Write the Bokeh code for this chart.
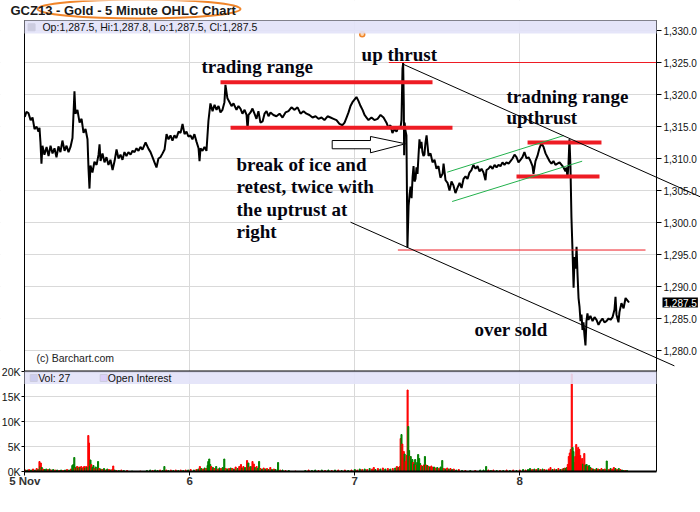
from bokeh.plotting import figure
from bokeh.models import (Range1d, FixedTicker, NumeralTickFormatter, Label, LinearAxis,
                          BoxAnnotation, ColumnDataSource, Grid)
from bokeh.embed import file_html
from bokeh.resources import INLINE

# ---------------- data ----------------
TITLE = "GCZ13 - Gold - 5 Minute OHLC Chart"
OHLC_TEXT = "Op:1,287.5, Hi:1,287.8, Lo:1,287.5, Cl:1,287.5"
LAST_PRICE = 1287.5
LAST_LABEL = "1,287.5"
VOL_TEXT = "Vol: 27"
OI_TEXT = "Open Interest"
COPYRIGHT = "(c) Barchart.com"

day_ticks = [5, 6, 7, 8]
day_labels = ["5 Nov", "6", "7", "8"]
price_ticks = [1280, 1285, 1290, 1295, 1300, 1305, 1310, 1315, 1320, 1325, 1330]
vol_ticks = [0, 5000, 10000, 15000, 20000]
vol_tick_labels = ["0K", "5K", "10K", "15K", "20K"]

price_day = [
    5.000, 5.010, 5.022, 5.035, 5.047, 5.059, 5.071, 5.083, 5.089, 5.095, 5.101, 5.107,
    5.119, 5.132, 5.144, 5.156, 5.168, 5.180, 5.192, 5.204, 5.216, 5.228, 5.241, 5.253,
    5.265, 5.277, 5.289, 5.301, 5.307, 5.319, 5.332, 5.344, 5.356, 5.368, 5.380, 5.386,
    5.392, 5.398, 5.410, 5.422, 5.435, 5.447, 5.453, 5.459, 5.471, 5.483, 5.495, 5.507,
    5.519, 5.532, 5.544, 5.556, 5.568, 5.580, 5.592, 5.604, 5.616, 5.628, 5.641, 5.653,
    5.665, 5.677, 5.689, 5.701, 5.713, 5.732, 5.750, 5.762, 5.774, 5.786, 5.798, 5.810,
    5.822, 5.835, 5.847, 5.859, 5.871, 5.883, 5.895, 5.907, 5.919, 5.932, 5.944, 5.956,
    5.968, 5.980, 5.992, 6.004, 6.016, 6.028, 6.041, 6.053, 6.059, 6.065, 6.077, 6.089,
    6.101, 6.113, 6.125, 6.138, 6.150, 6.162, 6.174, 6.186, 6.198, 6.210, 6.216, 6.228,
    6.241, 6.253, 6.265, 6.283, 6.295, 6.307, 6.319, 6.332, 6.344, 6.350, 6.356, 6.368,
    6.380, 6.392, 6.404, 6.416, 6.428, 6.441, 6.453, 6.465, 6.477, 6.489, 6.507, 6.525,
    6.544, 6.562, 6.580, 6.598, 6.616, 6.635, 6.653, 6.671, 6.689, 6.707, 6.725, 6.744,
    6.762, 6.780, 6.798, 6.816, 6.835, 6.853, 6.871, 6.889, 6.907, 6.925, 6.938, 6.950,
    6.962, 6.974, 6.986, 6.998, 7.010, 7.022, 7.035, 7.047, 7.059, 7.071, 7.083, 7.101,
    7.119, 7.138, 7.156, 7.174, 7.192, 7.204, 7.216, 7.228, 7.241, 7.253, 7.265, 7.277,
    7.283, 7.289, 7.293, 7.297, 7.299, 7.302, 7.307, 7.313, 7.319, 7.326, 7.332, 7.338,
    7.344, 7.350, 7.356, 7.362, 7.368, 7.374, 7.380, 7.386, 7.392, 7.398, 7.404, 7.410,
    7.416, 7.422, 7.428, 7.435, 7.441, 7.447, 7.459, 7.471, 7.483, 7.495, 7.507, 7.519,
    7.532, 7.538, 7.550, 7.562, 7.574, 7.586, 7.598, 7.610, 7.622, 7.635, 7.647, 7.659,
    7.671, 7.683, 7.695, 7.707, 7.719, 7.732, 7.744, 7.756, 7.768, 7.780, 7.792, 7.798,
    7.810, 7.822, 7.835, 7.847, 7.859, 7.871, 7.883, 7.895, 7.907, 7.919, 7.932, 7.944,
    7.956, 7.968, 7.980, 7.992, 8.004, 8.016, 8.028, 8.041, 8.053, 8.065, 8.077, 8.083,
    8.095, 8.107, 8.119, 8.132, 8.144, 8.156, 8.168, 8.180, 8.192, 8.204, 8.216, 8.228,
    8.241, 8.253, 8.265, 8.277, 8.283, 8.289, 8.295, 8.301, 8.307, 8.313, 8.319, 8.326,
    8.332, 8.338, 8.344, 8.350, 8.356, 8.362, 8.368, 8.374, 8.380, 8.386, 8.392, 8.398,
    8.404, 8.410, 8.416, 8.428, 8.441, 8.453, 8.465, 8.477, 8.489, 8.501, 8.513, 8.525,
    8.538, 8.550, 8.562, 8.574, 8.580, 8.586, 8.598, 8.604, 8.616, 8.629, 8.641, 8.653,
    8.662,
]
price_val = [
    1316.5, 1317.3, 1317.1, 1316.0, 1316.4, 1314.6, 1315.0, 1314.2, 1314.8, 1312.5, 1309.2, 1312.0,
    1310.6, 1311.8, 1310.4, 1312.0, 1310.8, 1311.6, 1310.2, 1311.9, 1311.0, 1312.8, 1311.2, 1312.0,
    1311.0, 1311.8, 1313.2, 1320.5, 1317.0, 1317.6, 1315.6, 1316.2, 1314.0, 1314.6, 1313.0, 1308.5,
    1305.3, 1308.9, 1307.8, 1309.5, 1309.0, 1310.6, 1312.2, 1309.6, 1310.8, 1309.4, 1310.2, 1309.0,
    1309.8, 1308.2, 1309.6, 1311.4, 1310.0, 1310.6, 1309.8, 1311.0, 1310.4, 1311.0, 1310.6, 1311.2,
    1311.0, 1311.6, 1311.2, 1311.8, 1311.4, 1312.5, 1311.5, 1311.0, 1310.2, 1309.4, 1308.6, 1310.0,
    1310.2, 1310.8, 1311.4, 1313.8, 1313.0, 1313.6, 1312.8, 1313.6, 1313.2, 1314.2, 1314.0, 1315.4,
    1313.8, 1314.2, 1313.4, 1313.6, 1313.0, 1313.8, 1312.6, 1311.6, 1309.6, 1311.6, 1311.2, 1311.8,
    1311.2, 1315.9, 1318.6, 1317.4, 1318.4, 1317.6, 1318.2, 1317.2, 1317.6, 1318.8, 1321.5, 1319.4,
    1318.8, 1318.2, 1318.6, 1317.6, 1318.2, 1317.8, 1317.0, 1317.6, 1316.8, 1314.6, 1316.8, 1317.2,
    1317.8, 1317.0, 1316.2, 1317.4, 1315.6, 1315.8, 1317.0, 1317.4, 1316.6, 1317.2, 1316.8, 1316.6,
    1317.0, 1316.4, 1317.2, 1317.4, 1318.0, 1317.6, 1318.0, 1317.0, 1317.4, 1317.0, 1316.8, 1316.4,
    1316.6, 1316.2, 1316.4, 1316.0, 1316.6, 1316.4, 1316.2, 1316.0, 1315.4, 1315.2, 1315.6, 1316.4,
    1317.2, 1318.2, 1318.8, 1319.2, 1319.6, 1319.0, 1318.2, 1317.6, 1316.8, 1316.4, 1316.0, 1316.4,
    1316.0, 1316.2, 1316.8, 1316.4, 1315.6, 1314.8, 1315.2, 1314.0, 1314.6, 1314.2, 1315.0, 1314.8,
    1316.0, 1324.0, 1324.9, 1318.5, 1310.5, 1315.6, 1314.4, 1313.6, 1296.1, 1302.6, 1304.4, 1305.6,
    1303.8, 1307.0, 1308.8, 1306.4, 1306.8, 1308.6, 1307.6, 1310.4, 1313.0, 1311.6, 1312.6, 1311.0,
    1310.4, 1310.6, 1312.4, 1313.6, 1312.0, 1310.4, 1310.8, 1309.4, 1309.8, 1308.4, 1308.8, 1307.0,
    1307.6, 1309.2, 1306.6, 1306.2, 1305.0, 1306.4, 1305.8, 1304.6, 1305.4, 1306.2, 1305.4, 1306.8,
    1307.2, 1306.8, 1307.8, 1308.2, 1309.0, 1308.4, 1308.8, 1308.0, 1308.4, 1307.8, 1306.6, 1308.2,
    1308.4, 1308.8, 1308.4, 1309.0, 1308.6, 1309.0, 1308.8, 1309.4, 1309.0, 1309.4, 1309.2, 1309.6,
    1310.0, 1310.6, 1310.2, 1309.4, 1309.8, 1310.2, 1311.0, 1310.0, 1310.2, 1309.6, 1308.8, 1307.6,
    1309.6, 1310.4, 1311.6, 1312.4, 1311.8, 1310.8, 1310.2, 1309.6, 1309.2, 1309.6, 1309.0, 1309.2,
    1309.4, 1309.0, 1308.6, 1308.0, 1308.6, 1307.0, 1309.0, 1313.0, 1308.8, 1300.8, 1296.0, 1289.8,
    1294.6, 1292.8, 1296.2, 1291.8, 1288.2, 1286.8, 1284.6, 1285.6, 1283.2, 1284.4, 1282.4, 1280.8,
    1284.6, 1285.8, 1284.8, 1285.4, 1284.6, 1285.2, 1284.8, 1284.0, 1284.6, 1285.0, 1284.4, 1284.6,
    1285.0, 1284.8, 1285.2, 1286.4, 1288.4, 1285.6, 1284.4, 1286.0, 1287.4, 1286.6, 1288.2, 1287.8,
    1287.5,
]

# volume bars: day, thousands of contracts, u = up (green) / d = down (red)
vol_day = [
    5.004, 5.015, 5.026, 5.038, 5.050, 5.062, 5.072, 5.082, 5.089, 5.094, 5.097, 5.103,
    5.110, 5.120, 5.130, 5.140, 5.150, 5.160, 5.172, 5.184, 5.196, 5.208, 5.220, 5.232,
    5.244, 5.256, 5.268, 5.280, 5.288, 5.294, 5.300, 5.306, 5.312, 5.318, 5.324, 5.330,
    5.336, 5.342, 5.348, 5.354, 5.360, 5.366, 5.372, 5.378, 5.385, 5.389, 5.394, 5.398,
    5.403, 5.410, 5.416, 5.422, 5.430, 5.437, 5.444, 5.452, 5.460, 5.470, 5.480, 5.490,
    5.500, 5.510, 5.520, 5.530, 5.536, 5.545, 5.556, 5.570, 5.585, 5.600, 5.620, 5.650,
    5.700, 5.740, 5.760, 5.775, 5.790, 5.805, 5.820, 5.835, 5.846, 5.858, 5.870, 5.885,
    5.900, 5.915, 5.930, 5.945, 5.960, 5.975, 5.990, 6.005, 6.025, 6.040, 6.052, 6.061,
    6.070, 6.080, 6.090, 6.100, 6.108, 6.112, 6.118, 6.124, 6.130, 6.140, 6.150, 6.160,
    6.170, 6.180, 6.190, 6.200, 6.209, 6.218, 6.228, 6.238, 6.248, 6.258, 6.268, 6.278,
    6.290, 6.300, 6.310, 6.318, 6.325, 6.335, 6.347, 6.355, 6.362, 6.370, 6.380, 6.388,
    6.396, 6.405, 6.412, 6.420, 6.428, 6.438, 6.448, 6.458, 6.468, 6.478, 6.488, 6.498,
    6.510, 6.520, 6.535, 6.548, 6.562, 6.580, 6.600, 6.640, 6.700, 6.720, 6.740, 6.760,
    6.780, 6.800, 6.820, 6.840, 6.860, 6.880, 6.900, 6.920, 6.940, 6.960, 6.980, 7.000,
    7.015, 7.030, 7.045, 7.060, 7.075, 7.090, 7.105, 7.115, 7.125, 7.140, 7.155, 7.170,
    7.185, 7.200, 7.215, 7.230, 7.245, 7.255, 7.265, 7.272, 7.278, 7.283, 7.288, 7.292,
    7.297, 7.302, 7.308, 7.314, 7.320, 7.324, 7.329, 7.334, 7.339, 7.344, 7.349, 7.354,
    7.360, 7.366, 7.372, 7.378, 7.384, 7.390, 7.396, 7.402, 7.410, 7.418, 7.425, 7.432,
    7.440, 7.448, 7.456, 7.464, 7.472, 7.480, 7.490, 7.500, 7.510, 7.520, 7.530, 7.540,
    7.550, 7.560, 7.570, 7.580, 7.590, 7.600, 7.615, 7.630, 7.650, 7.670, 7.700, 7.730,
    7.760, 7.780, 7.796, 7.810, 7.825, 7.840, 7.860, 7.880, 7.900, 7.920, 7.940, 7.960,
    7.980, 8.000, 8.020, 8.035, 8.050, 8.062, 8.075, 8.088, 8.100, 8.112, 8.125, 8.138,
    8.150, 8.162, 8.175, 8.186, 8.198, 8.210, 8.222, 8.234, 8.246, 8.258, 8.266, 8.273,
    8.279, 8.285, 8.291, 8.297, 8.303, 8.309, 8.315, 8.320, 8.325, 8.330, 8.336, 8.342,
    8.348, 8.354, 8.360, 8.366, 8.372, 8.378, 8.384, 8.391, 8.398, 8.405, 8.412, 8.420,
    8.428, 8.436, 8.445, 8.455, 8.465, 8.475, 8.485, 8.495, 8.505, 8.515, 8.527, 8.540,
    8.550, 8.560, 8.570, 8.580, 8.590, 8.600, 8.610, 8.620, 8.630, 8.640, 8.650,
]
vol_k = [
    0.3, 0.3, 0.4, 0.3, 0.5, 0.3, 0.6, 0.4, 2.0, 1.0, 1.7, 0.8,
    0.5, 0.4, 0.5, 0.4, 0.5, 0.3, 0.4, 0.3, 0.3, 0.2, 0.3, 0.2,
    0.3, 0.4, 0.3, 0.5, 1.2, 1.4, 2.8, 0.7, 0.9, 1.0, 0.7, 0.9,
    0.8, 1.0, 0.6, 0.8, 1.0, 0.7, 1.0, 0.8, 7.2, 5.7, 1.0, 2.3,
    1.4, 0.8, 1.2, 0.6, 0.9, 0.5, 2.0, 0.6, 0.5, 0.4, 0.6, 0.3,
    0.5, 0.4, 0.3, 0.4, 1.1, 0.3, 0.2, 0.2, 0.3, 0.2, 0.2, 0.1,
    0.1, 0.2, 0.3, 0.2, 0.3, 0.2, 0.3, 0.2, 1.0, 0.3, 0.2, 0.3,
    0.2, 0.3, 0.2, 0.3, 0.2, 0.3, 0.3, 0.4, 0.3, 0.4, 0.5, 1.0,
    0.6, 0.5, 0.7, 0.6, 1.2, 2.0, 2.5, 1.4, 1.0, 0.8, 0.6, 1.0,
    0.5, 0.7, 0.6, 0.8, 2.5, 0.6, 0.5, 0.6, 0.7, 0.6, 0.5, 0.9,
    0.6, 1.0, 1.4, 0.7, 1.0, 0.8, 2.2, 1.7, 0.9, 1.0, 2.0, 1.5,
    0.8, 1.0, 0.6, 2.0, 0.6, 0.5, 0.7, 0.5, 0.6, 0.4, 0.8, 0.4,
    0.5, 0.4, 1.8, 0.3, 0.3, 0.2, 0.2, 0.1, 0.2, 0.3, 0.2, 0.3,
    0.2, 0.3, 0.2, 0.3, 0.2, 0.3, 0.3, 0.2, 0.3, 0.2, 0.3, 0.4,
    0.3, 0.5, 0.4, 0.5, 0.4, 0.6, 0.5, 0.8, 0.4, 0.6, 0.5, 0.7,
    0.5, 0.6, 0.5, 0.6, 0.7, 1.0, 0.8, 1.0, 6.6, 7.4, 5.5, 2.6,
    4.0, 3.5, 2.0, 3.2, 16.3, 9.0, 4.2, 3.0, 3.0, 2.0, 2.4, 1.8,
    1.5, 2.4, 1.3, 1.8, 3.4, 2.6, 1.6, 1.2, 1.0, 1.3, 3.0, 1.3,
    1.2, 1.0, 0.9, 1.1, 0.8, 0.9, 0.7, 0.8, 0.6, 0.9, 2.2, 0.6,
    0.5, 0.7, 0.5, 0.6, 0.4, 0.5, 0.3, 0.4, 0.2, 0.2, 0.2, 0.2,
    0.3, 0.3, 1.0, 0.3, 0.2, 0.3, 0.2, 0.2, 0.2, 0.3, 0.2, 0.3,
    0.2, 0.3, 0.4, 0.3, 0.4, 0.6, 0.4, 0.5, 0.4, 0.6, 0.4, 0.5,
    0.4, 0.3, 0.5, 0.8, 0.4, 0.5, 0.4, 0.6, 0.4, 0.5, 0.6, 0.7,
    0.6, 0.8, 1.4, 3.0, 3.7, 4.4, 19.5, 4.8, 4.0, 1.8, 3.0, 5.4,
    4.2, 4.8, 4.4, 3.2, 1.5, 2.6, 1.5, 3.6, 1.3, 1.4, 1.0, 1.2,
    0.8, 0.6, 0.5, 0.4, 0.6, 0.5, 0.4, 0.6, 0.4, 0.5, 2.1, 0.4,
    0.6, 0.5, 0.8, 0.6, 0.4, 0.6, 0.4, 0.3, 0.2, 0.2, 0.2,
]
vol_dir = (
    "dudududududu" "duududududud" "ududuuududud" "ududdududduu"
    "duududududud" "ududdudududu" "duuduuduudud" "udududududud"
    "ududuuuududu" "duduudududud" "uddududududd" "uduududududu"
    "duududududuu" "dudududududu" "dudududdudud" "ududududdudd"
    "duddduuduuud" "uuduuuududud" "ududdududuud" "udududududud"
    "uuududududud" "ududuudududu" "duddudududud" "uuddddduuudd"
    "dddddduduudu" "udududududud" "uddududuudu"
)

# annotation geometry (data units: day, price)
thick_red = [  # x0, x1, price
    (6.186, 7.471, 1321.9),   # trading range top
    (6.247, 7.592, 1314.8),   # trading range bottom
    (8.047, 8.495, 1312.5),   # upthrust range top
    (7.980, 8.483, 1307.2),   # upthrust range bottom
]
thin_red = [
    (7.206, 8.828, 1325.0),   # up thrust level
    (7.261, 8.762, 1295.7),   # spike-low level
]
trend_lines = [  # x0, y0, x1, y1
    (7.287, 1324.8, 9.095, 1304.0),
    (6.974, 1300.05, 8.937, 1277.6),
]
green_channel = [
    (7.560, 1307.86, 8.267, 1313.59),
    (7.590, 1303.28, 8.378, 1309.58),
]
arrow_x = [6.863, 7.095, 7.095, 7.307, 7.095, 7.095, 6.863]
arrow_y = [1312.81, 1312.81, 1313.44, 1312.30, 1310.89, 1311.52, 1311.52]

notes = [  # text, day, price of baseline
    ("trading range", 6.071, 1324.35),
    ("up thrust", 7.041, 1326.25),
    ("tradning range", 7.919, 1319.7),
    ("upthrust", 7.919, 1316.35),
    ("break of ice and", 6.283, 1309.05),
    ("retest, twice with", 6.283, 1305.55),
    ("the uptrust at", 6.283, 1302.05),
    ("right", 6.283, 1298.55),
    ("over sold", 7.725, 1283.25),
]

# ---------------- layout constants ----------------
XL, XR = 4.85273, 9.09515          # canvas edges in days
X0, XAXIS = 4.99818, 8.82848       # plot-area left edge / price axis
Y_LO, Y_HI = 1255.0, 1334.6875     # canvas edges in price units
Y_TOP, Y_SEP, Y_BASE = 1331.5625, 1276.7188, 1261.0938
VOL_LO, VOL_HI = -7800, 94200      # canvas edges in volume units
SANS = "Liberation Sans"
SERIF = "Liberation Serif"
GRID = "#d9d9d9"
LAV = "#e2e2f8"
ORANGE = "#f0852a"

p = figure(width=700, height=510, x_range=Range1d(XL, XR), y_range=Range1d(Y_LO, Y_HI),
           x_axis_location=None, y_axis_location=None, toolbar_location=None,
           output_backend="svg", min_border=0, outline_line_color=None)
p.extra_y_ranges = {"vol": Range1d(VOL_LO, VOL_HI)}
p.grid.visible = False

p.add_layout(Grid(dimension=0, ticker=FixedTicker(ticks=day_ticks), grid_line_color=GRID))
p.add_layout(Grid(dimension=1, ticker=FixedTicker(ticks=price_ticks), grid_line_color=GRID))
p.add_layout(Grid(dimension=1, ticker=FixedTicker(ticks=vol_ticks), grid_line_color=GRID,
                  y_range_name="vol"))
# keep grid lines inside the two panels
for kw in (dict(right=X0), dict(left=XAXIS), dict(bottom=Y_TOP), dict(top=Y_BASE)):
    p.add_layout(BoxAnnotation(fill_color="white", fill_alpha=1, line_color=None,
                               level="underlay", **kw))

# axes
price_axis = LinearAxis(fixed_location=XAXIS, bounds=(Y_BASE, Y_TOP),
                        ticker=FixedTicker(ticks=price_ticks),
                        formatter=NumeralTickFormatter(format="0,0.0"),
                        major_label_text_font=SANS, major_label_text_font_size="10px",
                        major_label_text_color="#111111", major_tick_out=5, major_tick_in=0,
                        major_label_standoff=2, minor_tick_line_color=None,
                        axis_line_color="black")
p.add_layout(price_axis, "right")
p.add_layout(LinearAxis(fixed_location=X0, bounds=(Y_SEP, Y_TOP), ticker=FixedTicker(ticks=[]),
                        minor_tick_line_color=None, axis_line_color="black"), "left")
vol_axis = LinearAxis(y_range_name="vol", fixed_location=X0, bounds=(0, 20000),
                      ticker=FixedTicker(ticks=vol_ticks),
                      major_label_overrides={k: s for k, s in zip(vol_ticks, vol_tick_labels)},
                      major_label_text_font=SANS, major_label_text_font_size="10.5px",
                      major_label_text_color="#111111", major_tick_out=3, major_tick_in=0,
                      major_label_standoff=1, minor_tick_line_color=None,
                      axis_line_color="black")
p.add_layout(vol_axis, "left")
p.add_layout(LinearAxis(fixed_location=Y_TOP, bounds=(X0, XAXIS), ticker=FixedTicker(ticks=[]),
                        minor_tick_line_color=None, axis_line_color="#333333"), "above")
p.add_layout(LinearAxis(fixed_location=Y_SEP, bounds=(X0, XAXIS), ticker=FixedTicker(ticks=[]),
                        minor_tick_line_color=None, axis_line_color="black",
                        axis_line_width=2), "below")
day_axis = LinearAxis(fixed_location=Y_BASE, bounds=(X0, XAXIS),
                      ticker=FixedTicker(ticks=day_ticks),
                      major_label_overrides={d: s for d, s in zip(day_ticks, day_labels)},
                      major_label_text_font=SANS, major_label_text_font_style="bold",
                      major_label_text_font_size="11.5px", major_label_text_color="#333333",
                      major_tick_out=4, major_tick_in=0, major_label_standoff=0,
                      minor_tick_line_color=None, axis_line_color="black", axis_line_width=2)
p.add_layout(day_axis, "below")

# title
p.add_layout(Label(x=4.9133, y=1333.2, text=TITLE, text_font=SANS, text_font_style="bold",
                   text_font_size="13px", text_color="#1a1a1a", text_baseline="alphabetic"))
p.ellipse(x=[5.6921], y=[1333.36], width=[1.2303], height=[2.97], fill_color=None,
          line_color=ORANGE, line_width=2)

# legend bands
p.add_layout(BoxAnnotation(left=X0, right=XAXIS, bottom=1329.53, top=Y_TOP,
                           fill_color=LAV, fill_alpha=0.9, line_color=None))
p.add_layout(BoxAnnotation(left=X0, right=XAXIS, bottom=17500, top=20000, y_range_name="vol",
                           fill_color=LAV, fill_alpha=0.9, line_color=None))
p.scatter(x=[5.041], y=[1330.5], marker="square", size=7, color="black")
p.add_layout(Label(x=5.107, y=1330.5, text=OHLC_TEXT, text_font=SANS, text_font_size="10.5px",
                   text_baseline="middle", text_color="#111111"))
p.scatter(x=[5.054], y=[18700], marker="square", size=7, fill_color="#000080",
          line_color="black", y_range_name="vol")
p.add_layout(Label(x=5.081, y=18700, y_range_name="vol", text=VOL_TEXT, text_font=SANS,
                   text_font_size="10.5px", text_baseline="middle", text_color="#111111"))
p.scatter(x=[5.478], y=[18700], marker="square", size=7, fill_color="#9b1eff",
          line_color="black", y_range_name="vol")
p.add_layout(Label(x=5.503, y=18700, y_range_name="vol", text=OI_TEXT, text_font=SANS,
                   text_font_size="10.5px", text_baseline="middle", text_color="#111111"))

# volume bars
vsrc = ColumnDataSource(dict(
    x=vol_day, top=[k * 1000 for k in vol_k],
    color=["#008000" if d == "u" else "#ff0000" for d in vol_dir],
))
p.vbar(x="x", top="top", bottom=0, width=0.0065, color="color", source=vsrc,
       y_range_name="vol")

# price
p.line(price_day, price_val, line_color="black", line_width=2)

for x0, x1, y in thick_red:
    p.segment(x0=[x0], y0=[y], x1=[x1], y1=[y], line_color="#ee1c24", line_width=4)
for x0, x1, y in thin_red:
    p.segment(x0=[x0], y0=[y], x1=[x1], y1=[y], line_color="#ee1c24", line_width=1)
for x0, y0, x1, y1 in green_channel:
    p.segment(x0=[x0], y0=[y0], x1=[x1], y1=[y1], line_color="#22b14c", line_width=1)
for x0, y0, x1, y1 in trend_lines:
    p.segment(x0=[x0], y0=[y0], x1=[x1], y1=[y1], line_color="black", line_width=1)
p.patch(arrow_x, arrow_y, fill_color="white", line_color="black", line_width=1)
p.scatter(x=[7.045], y=[1329.4], marker="circle", size=5, line_color=ORANGE,
          fill_color="#ffd9b0", line_width=1.5)

for txt, xd, yp in notes:
    p.add_layout(Label(x=xd, y=yp, text=txt, text_font=SERIF, text_font_style="bold",
                       text_font_size="19px", text_color="#050510",
                       text_baseline="alphabetic"))
p.add_layout(Label(x=5.071, y=1278.9, text=COPYRIGHT, text_font=SANS,
                   text_font_size="10.5px", text_color="#222222", text_baseline="alphabetic"))
p.add_layout(Label(x=XAXIS, y=LAST_PRICE, x_offset=6, text=LAST_LABEL, text_font=SANS,
                   text_font_size="10px", text_color="white", text_baseline="middle",
                   background_fill_color="black", padding=1))

open("out.html", "w").write(file_html(p, INLINE))
